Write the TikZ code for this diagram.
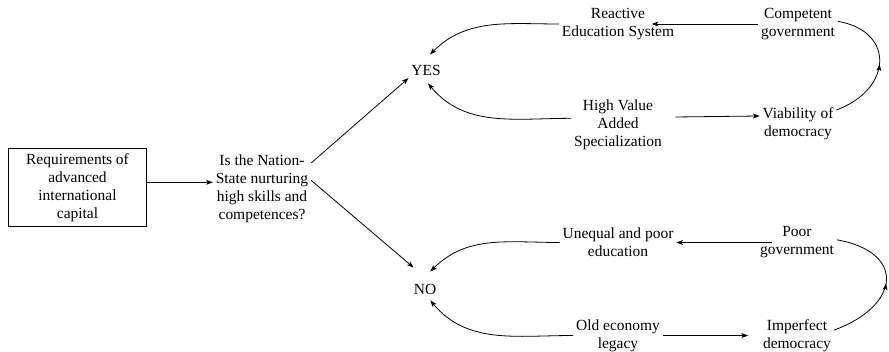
\documentclass[tikz,border=0pt]{standalone}
\usepackage{fontspec}
\setmainfont{Liberation Serif}
\usetikzlibrary{arrows.meta,decorations.markings}

\begin{document}
\begin{tikzpicture}[x=0.75pt,y=0.75pt,font=\fontsize{11.6}{13.5}\selectfont,
    lbl/.style={align=center, inner sep=2pt},
    link/.style={line width=0.6pt, -{Stealth[length=5pt,width=3.6pt,inset=1.2pt]}},
    turn/.style={line width=0.6pt, postaction={decorate},
      decoration={markings, mark=at position 0.5 with {\arrow{Stealth[length=5pt,width=3.6pt,inset=1.2pt]}}}}]
    \useasboundingbox (0,0) rectangle (889,352);
    \node[lbl, draw, line width=0.6pt, minimum width=104pt, minimum height=58pt] (req) at (77.5,164.5) {Requirements of\\advanced\\international\\capital};
    \node[lbl] (q) at (262,163) {Is the Nation-\\State nurturing\\high skills and\\competences?};
    \node[lbl] (yes) at (426,282) {YES};
    \node[lbl] (no) at (425,63) {NO};
    \node[lbl] (res) at (618,328) {Reactive\\Education System};
    \node[lbl] (cg) at (798,328) {Competent\\government};
    \node[lbl] (hva) at (618,227) {High Value\\Added\\Specialization};
    \node[lbl] (vd) at (798,228) {Viability of\\democracy};
    \node[lbl] (upe) at (618,109.5) {Unequal and poor\\education};
    \node[lbl] (pg) at (797,109.5) {Poor\\government};
    \node[lbl] (oel) at (618,16.5) {Old economy\\legacy};
    \node[lbl] (id) at (797,16.5) {Imperfect\\democracy};

    \draw[link] ([yshift=5pt]q.west -| req.east) -- ([yshift=5pt]q.west);
    \draw[link] ([yshift=19.5pt]q.east) -- (yes.south west);
    \draw[link] ([yshift=6.5pt]q.east) -- ([shift={(2pt,10pt)}]no.north west);

    \draw[link] (cg.west) -- ([xshift=-19pt]res.east);
    \draw[link] (res.west) to[out=180,in=45] ([shift={(3pt,5.5pt)}]yes.north);
    \draw[link] ([yshift=5pt]hva.west) to[out=180,in=-50] ([shift={(1.5pt,-4pt)}]yes.south);
    \draw[link] ([shift={(8pt,6pt)}]hva.east) -- ([yshift=6pt]vd.west);
    \draw[turn] ([yshift=10.5pt]vd.east) to[out=20,in=-10,looseness=1.7] ([yshift=2pt]cg.east);

    \draw[link] ([xshift=11pt]pg.west) -- (upe.east);
    \draw[link] (upe.west) to[out=180,in=45] ([shift={(4pt,7pt)}]no.north);
    \draw[link] (oel.west) to[out=180,in=-50] ([shift={(4pt,-2.5pt)}]no.south);
    \draw[link] (oel.east) -- ([xshift=-9pt]id.west);
    \draw[turn] ([yshift=4pt]id.east) to[out=20,in=-10,looseness=2.0] ([yshift=2pt]pg.east);
\end{tikzpicture}
\end{document}
